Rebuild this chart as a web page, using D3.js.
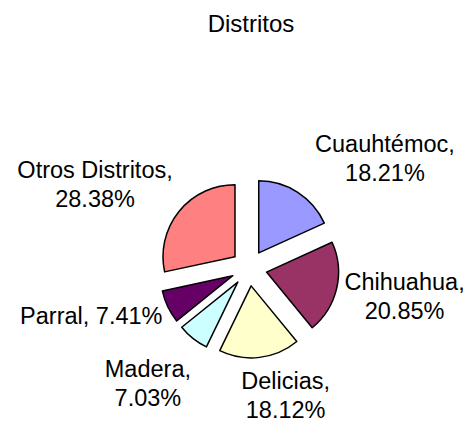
<!DOCTYPE html>
<html>
<head>
<meta charset="utf-8">
<script src="https://cdn.jsdelivr.net/npm/d3@7"></script>
<style>
  body { margin: 0; background: #fff; }
  text { font-family: "Liberation Sans", Arial, sans-serif; fill: #000; }
</style>
</head>
<body>
<div id="chart"></div>
<script>
// data
let districts = ['Cuauhtémoc', 'Chihuahua', 'Delicias', 'Madera', 'Parral', 'Otros Distritos'];
let shares = [18.21, 20.85, 18.12, 7.03, 7.41, 28.38];
let labelLines = [
    ['Cuauhtémoc,', '18.21%'],
    ['Chihuahua,', '20.85%'],
    ['Delicias,', '18.12%'],
    ['Madera,', '7.03%'],
    ['Parral, 7.41%'],
    ['Otros Distritos,', '28.38%']
];
let sliceColors = ['#9999ff', '#993366', '#ffffcc', '#ccffff', '#660066', '#ff8080'];
// small hand nudges (px) the spreadsheet applied to some labels
let labelNudge = [[13, 0], [0, 0], [12, 3], [3, 11], [2, 0], [0, 0]];

let width = 467, height = 422;
let cx = 249, cy = 268, radius = 72, explode = 18, labelR = 80;
let lineH = 29;

let svg = d3.select('#chart').append('svg')
    .attr('width', width)
    .attr('height', height);

svg.append('text')
    .attr('x', 251)
    .attr('y', 32)
    .attr('text-anchor', 'middle')
    .style('font-size', '24px')
    .text('Distritos');

let pie = d3.pie().sort(null).value(d => d)(shares);
let arc = d3.arc().innerRadius(0).outerRadius(radius);

let g = svg.append('g').attr('transform', `translate(${cx},${cy})`);

// unit vector of a slice's middle angle (0 = 12 o'clock, clockwise)
function dir(d) {
    let a = (d.startAngle + d.endAngle) / 2;
    return [Math.sin(a), -Math.cos(a)];
}

g.selectAll('path')
    .data(pie)
    .enter().append('path')
    .attr('d', arc)
    .attr('transform', d => {
        let [ux, uy] = dir(d);
        return `translate(${ux * explode},${uy * explode})`;
    })
    .attr('fill', (d, i) => sliceColors[i])
    .attr('stroke', '#000')
    .attr('stroke-width', 1.5)
    .attr('stroke-linejoin', 'round');

// labels: box sits just outside each exploded slice
let labels = g.selectAll('g.label')
    .data(pie)
    .enter().append('g')
    .attr('class', 'label');

labels.each(function (d, i) {
    let lg = d3.select(this);
    let lines = labelLines[i];
    let t = lg.append('text')
        .attr('text-anchor', 'middle')
        .style('font-size', '23.5px');
    lines.forEach((s, k) => {
        t.append('tspan').attr('x', 0).attr('y', k * lineH).text(s);
    });
    let bb = t.node().getBBox();
    let [ux, uy] = dir(d);
    let px = ux * (explode + labelR), py = uy * (explode + labelR);
    let sx = Math.max(-1, Math.min(1, ux * 2.5));
    let m = Math.max(Math.abs(ux), Math.abs(uy));
    let sy = uy / m;
    let bx = px + sx * bb.width / 2 + labelNudge[i][0];
    let by = py + sy * bb.height / 2 + labelNudge[i][1];
    // centre the box on (bx, by)
    lg.attr('transform', `translate(${bx - (bb.x + bb.width / 2)},${by - (bb.y + bb.height / 2)})`);
});
</script>
</body>
</html>
